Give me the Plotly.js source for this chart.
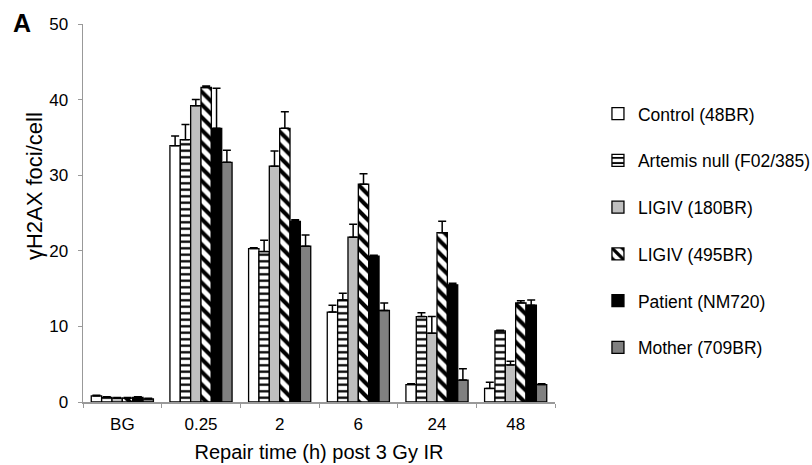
<!DOCTYPE html>
<html><head><meta charset="utf-8">
<script src="https://cdn.plot.ly/plotly-3.0.1.min.js"></script>
<style>body{margin:0;background:#fff}#c{width:812px;height:465px}</style>
</head><body><div id="c"></div>
<script>
const categories = ["BG", "0.25", "2", "6", "24", "48"];
const seriesNames = ["Control (48BR)", "Artemis null (F02/385)", "LIGIV (180BR)", "LIGIV (495BR)", "Patient (NM720)", "Mother (709BR)"];
const yTitle = "γH2AX foci/cell";
const xTitle = "Repair time (h) post 3 Gy IR";
const control   = [0.8, 33.9, 20.3, 11.9, 2.3, 1.8];
const artemis   = [0.6, 34.7, 19.9, 13.5, 11.3, 9.4];
const ligiv180  = [0.5, 39.2, 31.2, 21.8, 9.1, 4.9];
const ligiv495  = [0.5, 41.6, 36.2, 28.8, 22.4, 13.1];
const patient   = [0.6, 36.2, 23.9, 19.3, 15.5, 12.8];
const mother    = [0.4, 31.7, 20.6, 12.1, 2.9, 2.3];
const controlErr  = [0.1, 1.3, 0.1, 0.9, 0.1, 0.8];
const artemisErr  = [0.1, 2.0, 1.5, 0.9, 0.5, 0.1];
const ligiv180Err = [0.1, 0.8, 2.0, 1.7, 2.2, 0.5];
const ligiv495Err = [0.1, 0.2, 2.2, 1.4, 1.5, 0.3];
const patientErr  = [0.1, 5.3, 0.2, 0.1, 0.2, 0.7];
const motherErr   = [0.1, 1.6, 1.5, 1.0, 1.5, 0.1];

const values = [control, artemis, ligiv180, ligiv495, patient, mother];
const errs = [controlErr, artemisErr, ligiv180Err, ligiv495Err, patientErr, motherErr];
const styles = [
  {color: "#ffffff", pattern: {shape: ""}},
  {color: "#ffffff", pattern: {shape: "-", fgcolor: "#000000", bgcolor: "#ffffff", size: 6.5, solidity: 0.35, fillmode: "replace"}},
  {color: "#bfbfbf", pattern: {shape: ""}},
  {color: "#ffffff", pattern: {shape: "\\", fgcolor: "#000000", bgcolor: "#ffffff", size: 9, solidity: 0.45, fillmode: "replace"}},
  {color: "#000000", pattern: {shape: ""}},
  {color: "#808080", pattern: {shape: ""}}
];

const traces = values.map((v, i) => ({
  type: "bar",
  name: seriesNames[i],
  x: categories,
  y: v,
  legendgroup: "g" + i,
  marker: {color: styles[i].color, pattern: styles[i].pattern, line: {color: "#000000", width: 1.3}},
  error_y: {type: "data", symmetric: false, array: errs[i], arrayminus: errs[i].map(() => 0), color: "#000000", thickness: 1.5, width: 4}
}));

const FONT = "'Liberation Sans', Arial, sans-serif";
const layout = {
  width: 812, height: 465,
  margin: {l: 83, r: 257, t: 24, b: 63, autoexpand: false},
  paper_bgcolor: "#ffffff", plot_bgcolor: "#ffffff",
  font: {family: FONT, color: "#000000", size: 17},
  barmode: "group", bargap: 0.21, bargroupgap: 0,
  showlegend: true,
  legend: {x: 1.091, y: 0.81, xanchor: "left", yanchor: "top", font: {size: 17.5}, tracegroupgap: 21, itemwidth: 30},
  xaxis: {
    type: "category", showline: true, linecolor: "#999999", linewidth: 1.5,
    ticks: "outside", tickson: "boundaries", ticklen: 4, tickcolor: "#999999",
    tickfont: {size: 17}, showgrid: false, ticklabelstandoff: 6,
    title: {text: xTitle, font: {size: 20}, standoff: 12}
  },
  yaxis: {
    range: [0, 50], dtick: 10, showline: true, linecolor: "#999999", linewidth: 1.5,
    ticks: "outside", ticklen: 4, tickcolor: "#999999", showgrid: false, zeroline: false,
    tickfont: {size: 17}, ticklabelstandoff: 6
  },
  annotations: [
    {text: "<b>A</b>", xref: "paper", yref: "paper", x: -0.152, y: 1.045, xanchor: "left", yanchor: "top", showarrow: false, font: {size: 25, family: FONT}},
    {text: yTitle, textangle: -90, xref: "paper", yref: "paper", x: -0.104, y: 0.571, xanchor: "center", yanchor: "middle", showarrow: false, font: {size: 22, family: FONT}}
  ]
};
Plotly.newPlot("c", traces, layout, {displayModeBar: false, staticPlot: true});
</script></body></html>
